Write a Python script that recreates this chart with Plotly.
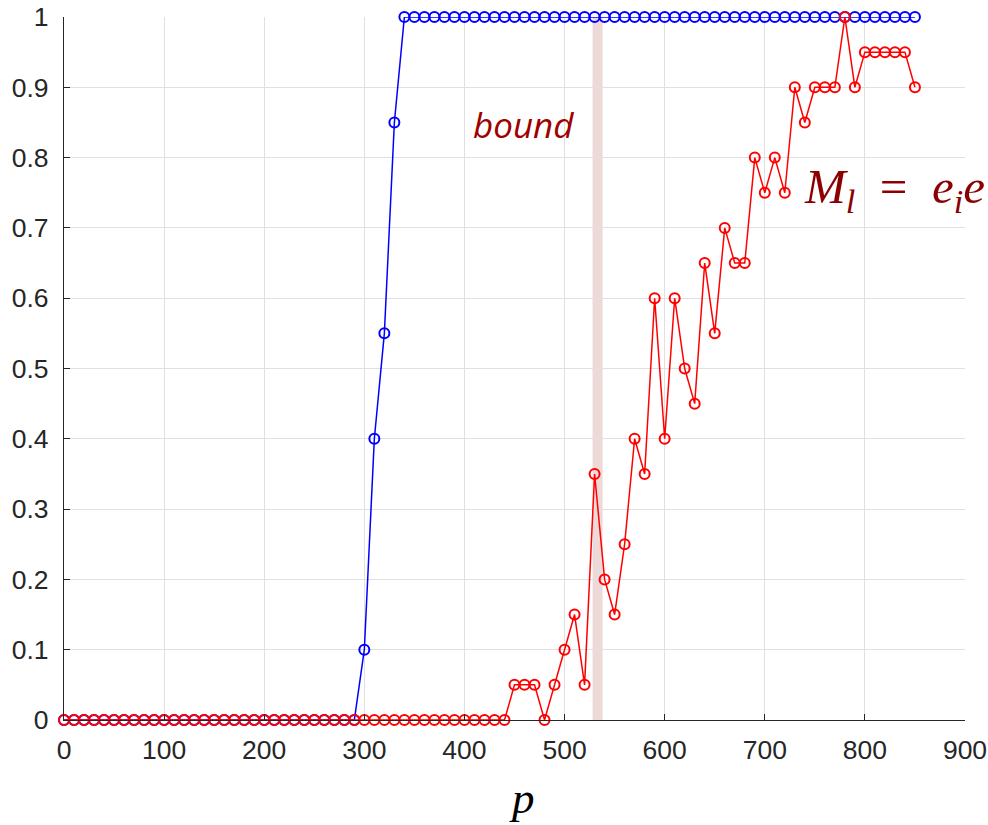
import plotly.graph_objects as go

p_values = list(range(0, 860, 10))

blue_values = [0.0] * 30 + [0.1, 0.4, 0.55, 0.85] + [1.0] * 52

red_values = [0.0] * 45 + [
    0.05, 0.05, 0.05, 0.0, 0.05, 0.1, 0.15, 0.05, 0.35, 0.2,
    0.15, 0.25, 0.4, 0.35, 0.6, 0.4, 0.6, 0.5, 0.45, 0.65,
    0.55, 0.7, 0.65, 0.65, 0.8, 0.75, 0.8, 0.75, 0.9, 0.85,
    0.9, 0.9, 0.9, 1.0, 0.9, 0.95, 0.95, 0.95, 0.95, 0.95, 0.9,
]

bound_x = [528, 538]
x_ticks = list(range(0, 1000, 100))
y_ticks = [round(i * 0.1, 1) for i in range(11)]
y_tick_text = ["0", "0.1", "0.2", "0.3", "0.4", "0.5", "0.6", "0.7", "0.8", "0.9", "1"]

fig = go.Figure()

fig.add_shape(type="rect", xref="x", yref="y", x0=bound_x[0], x1=bound_x[1], y0=0, y1=1,
              fillcolor="rgba(222,180,180,0.5)", line=dict(width=0), layer="below")

fig.add_trace(go.Scatter(
    x=p_values, y=blue_values, mode="lines+markers",
    line=dict(color="#0000ff", width=1.5),
    marker=dict(symbol="circle-open", size=10, color="#0000ff", line=dict(width=2)),
    cliponaxis=False, showlegend=False))

fig.add_trace(go.Scatter(
    x=p_values, y=red_values, mode="lines+markers",
    line=dict(color="#ff0000", width=1.5),
    marker=dict(symbol="circle-open", size=10, color="#ff0000", line=dict(width=2)),
    cliponaxis=False, showlegend=False))

fig.add_annotation(x=459, y=0.847, xref="x", yref="y", text="<i>bound</i>",
                   showarrow=False, font=dict(family="Open Sans", size=35, color="#a00000"))

fig.add_annotation(x=0.819, y=0.755, xref="paper", yref="y", xanchor="left",
                   text="<i>M</i><sub><i>l</i></sub>&nbsp;&nbsp;=&nbsp;&nbsp;<i>e</i><sub><i>i</i></sub><i>e</i>",
                   showarrow=False, font=dict(family="Liberation Serif", size=49, color="#8b0000"))

fig.add_annotation(x=0.508, y=-0.150, xref="paper", yref="paper", text="<i>p</i>",
                   showarrow=False, font=dict(family="Liberation Serif", size=45, color="#000000"))

axis_common = dict(
    showline=True, linecolor="#262626", linewidth=1.2,
    showgrid=True, gridcolor="#e0e0e0", gridwidth=1,
    ticks="inside", ticklen=6, tickcolor="#262626", tickwidth=1,
    zeroline=False, automargin=False,
    tickfont=dict(family="Liberation Sans", size=26.5, color="#262626"),
)

fig.update_xaxes(range=[0, 900], tickvals=x_ticks, ticklabelstandoff=6, **axis_common)
fig.update_yaxes(range=[0, 1], tickvals=y_ticks, ticktext=y_tick_text, ticklabelstandoff=9, **axis_common)

fig.update_layout(
    width=988, height=825,
    margin=dict(l=64, r=23, t=17, b=105, autoexpand=False),
    plot_bgcolor="white", paper_bgcolor="white",
)

fig.write_html("out.html")
